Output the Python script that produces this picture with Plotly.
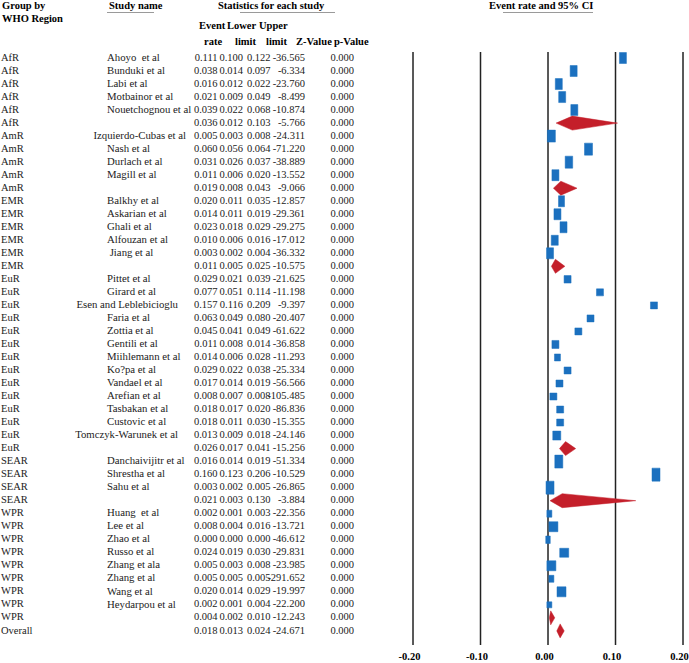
import plotly.graph_objects as go

# ---------------- data ----------------
groups = (["AfR"] * 6 + ["AmR"] * 5 + ["EMR"] * 6 + ["EuR"] * 14 +
          ["SEAR"] * 4 + ["WPR"] * 9 + ["Overall"])
study_names = [
    "Ahoyo  et al", "Bunduki et al", "Labi et al", "Motbainor et al", "Nouetchognou et al", "",
    "Izquierdo-Cubas et al", "Nash et al", "Durlach et al", "Magill et al", "",
    "Balkhy et al", "Askarian et al", "Ghali et al", "Alfouzan et al", " Jiang et al", "",
    "Pittet et al", "Girard et al", "Esen and Leblebicioglu", "Faria et al", "Zottia et al",
    "Gentili et al", "Miihlemann et al", "Ko?pa et al", "Vandael et al", "Arefian et al",
    "Tasbakan et al", "Custovic et al", "Tomczyk-Warunek et al", "",
    "Danchaivijitr et al", "Shrestha et al", "Sahu et al", "",
    "Huang  et al", "Lee et al", "Zhao et al", "Russo et al", "Zhang et ala", "Zhang et al",
    "Wang et al", "Heydarpou et al", "",
    "",
]
event_rate = [0.111, 0.038, 0.016, 0.021, 0.039, 0.036,
              0.005, 0.060, 0.031, 0.011, 0.019,
              0.020, 0.014, 0.023, 0.010, 0.003, 0.011,
              0.029, 0.077, 0.157, 0.063, 0.045, 0.011, 0.014, 0.029, 0.017, 0.008, 0.018, 0.018, 0.013, 0.026,
              0.016, 0.160, 0.003, 0.021,
              0.002, 0.008, 0.000, 0.024, 0.005, 0.005, 0.020, 0.002, 0.004,
              0.018]
lower_limit = [0.100, 0.014, 0.012, 0.009, 0.022, 0.012,
               0.003, 0.056, 0.026, 0.006, 0.008,
               0.011, 0.011, 0.018, 0.006, 0.002, 0.005,
               0.021, 0.051, 0.116, 0.049, 0.041, 0.008, 0.006, 0.022, 0.014, 0.007, 0.017, 0.011, 0.009, 0.017,
               0.014, 0.123, 0.002, 0.003,
               0.001, 0.004, 0.000, 0.019, 0.003, 0.005, 0.014, 0.001, 0.002,
               0.013]
upper_limit = [0.122, 0.097, 0.022, 0.049, 0.068, 0.103,
               0.008, 0.064, 0.037, 0.020, 0.043,
               0.035, 0.019, 0.029, 0.016, 0.004, 0.025,
               0.039, 0.114, 0.209, 0.080, 0.049, 0.014, 0.028, 0.038, 0.019, 0.008, 0.020, 0.030, 0.018, 0.041,
               0.019, 0.206, 0.005, 0.130,
               0.003, 0.016, 0.000, 0.030, 0.008, 0.005, 0.029, 0.004, 0.010,
               0.024]
z_value = [-36.565, -6.334, -23.760, -8.499, -10.874, -5.766,
           -24.311, -71.220, -38.889, -13.552, -9.066,
           -12.857, -29.361, -29.275, -17.012, -36.332, -10.575,
           -21.625, -11.198, -9.397, -20.407, -61.622, -36.858, -11.293, -25.334, -56.566, -105.485,
           -86.836, -15.355, -24.146, -15.256,
           -51.334, -10.529, -26.865, -3.884,
           -22.356, -13.721, -46.612, -29.831, -23.985, -291.652, -19.997, -22.200, -12.243,
           -24.671]
p_value = [0.000] * 45
tick_values = [-0.20, -0.10, 0.00, 0.10, 0.20]

# ---------------- style (box sizes in px, per row; None = summary diamond) -------------
box_w = [7, 7, 7, 7, 7, None,
         8, 8, 7.5, 7, None,
         6, 7, 7, 7, 7, None,
         7, 7, 7, 7, 7, 7, 6, 7, 7, 7, 7, 7, 8, None,
         8, 8, 8, None,
         5, 9, 4.5, 9, 9, 5, 9, 5, None,
         None]
box_h = [11, 11, 11, 11, 11, None,
         12, 12, 12, 11, None,
         11, 11, 11, 10, 11, None,
         7.5, 7, 7, 7, 7, 8, 7, 7, 7, 7, 7, 7, 9, None,
         13, 13, 13, None,
         7, 10, 7.5, 9, 10, 7, 10, 6, None,
         None]

W, H = 689, 663
ROW0, ROWH = 58.0, 13.02          # pixel y of first row, row pitch
PX_PER_UNIT = 675.0               # pixels per 1.0 of event rate
X0_PX = 548.0                     # pixel x of event rate 0
XMIN_R, XMAX_R = -0.215, 0.2088   # axis range (a little wider than the ticks)
DX = 1.0 / PX_PER_UNIT
DY = 1.0 / ROWH
dom_l = (X0_PX + XMIN_R * PX_PER_UNIT) / W
dom_r = (X0_PX + XMAX_R * PX_PER_UNIT) / W

BLUE = "#1b70bf"
RED = "#c41f2a"
TXT = "#222222"
FONT = "Liberation Serif"
FS = 10.5
FS_NAME = 10.75

n = len(groups)
rows = list(range(n))

fig = go.Figure()

# study boxes
bx, by = [], []
for i in rows:
    if box_w[i] is not None:
        hw = box_w[i] / 2 * DX
        hh = box_h[i] / 2 * DY
        r = event_rate[i]
        bx += [r - hw, r + hw, r + hw, r - hw, r - hw, None]
        by += [i - hh, i - hh, i + hh, i + hh, i - hh, None]
fig.add_trace(go.Scatter(x=bx, y=by, mode="lines", fill="toself", fillcolor=BLUE,
                         line=dict(color=BLUE, width=0.5), hoverinfo="skip",
                         showlegend=False, xaxis="x", yaxis="y"))

# summary diamonds
dxs, dys = [], []
for i in rows:
    if box_w[i] is None:
        hh = 7.0 * DY
        dxs += [lower_limit[i], event_rate[i], upper_limit[i], event_rate[i], lower_limit[i], None]
        dys += [i, i - hh, i, i + hh, i, None]
fig.add_trace(go.Scatter(x=dxs, y=dys, mode="lines", fill="toself", fillcolor=RED,
                         line=dict(color=RED, width=0.5), hoverinfo="skip",
                         showlegend=False, xaxis="x", yaxis="y"))

# ---------------- table text (x2 axis in pixel units) ----------------
def txt(xs, ys, texts, pos, bold=False, size=FS):
    fig.add_trace(go.Scatter(
        x=xs, y=ys, text=[f"<b>{t}</b>" if bold else t for t in texts],
        mode="text", textposition=pos, cliponaxis=False,
        textfont=dict(family=FONT, size=size, color=TXT if not bold else "#000"),
        hoverinfo="skip", showlegend=False, xaxis="x2", yaxis="y"))

txt([1] * n, rows, groups, "middle right")

# study names: most left-aligned, long ones right-aligned
left_idx = [i for i in rows if study_names[i] and len(study_names[i]) < 20]
right_idx = [i for i in rows if study_names[i] and len(study_names[i]) >= 20]
txt([107] * len(left_idx), left_idx, [study_names[i] for i in left_idx], "middle right",
    size=FS_NAME)
txt([186 if study_names[i].startswith("Izq") else 178 for i in right_idx], right_idx,
    [study_names[i] for i in right_idx], "middle left", size=FS_NAME)

txt([217.5] * n, rows, [f"{v:.3f}" for v in event_rate], "middle left")
txt([243] * n, rows, [f"{v:.3f}" for v in lower_limit], "middle left")
txt([270.5] * n, rows, [f"{v:.3f}" for v in upper_limit], "middle left")
txt([305] * n, rows, [f"{v:.3f}" for v in z_value], "middle left")
txt([354] * n, rows, [f"{v:.3f}" for v in p_value], "middle left")

# axis tick labels (bold, just under the vertical lines)
tick_row = (657 - ROW0) / ROWH
fig.add_trace(go.Scatter(
    x=[v - 3.5 * DX for v in tick_values], y=[tick_row] * len(tick_values),
    text=[f"<b>{v:.2f}</b>" for v in tick_values], mode="text", textposition="middle center",
    cliponaxis=False, textfont=dict(family=FONT, size=FS, color="#000"),
    hoverinfo="skip", showlegend=False, xaxis="x", yaxis="y"))

# vertical reference lines
top_row = (52 - ROW0) / ROWH
bot_row = (645 - ROW0) / ROWH
for v in tick_values:
    fig.add_shape(type="line", xref="x", yref="y", x0=v, x1=v, y0=top_row, y1=bot_row,
                  line=dict(color="#222", width=1.5), layer="below")

# ---------------- headers ----------------
def hdr(x, y, t, anchor):
    fig.add_annotation(x=x / W, y=1 - y / H, xref="paper", yref="paper", text=f"<b>{t}</b>",
                       showarrow=False, xanchor=anchor, yanchor="middle",
                       font=dict(family=FONT, size=FS, color="#000"))

hdr(0, 6, "Group by", "left")
hdr(0, 18.5, "WHO Region", "left")
hdr(107, 6, "Study name", "left")
hdr(216, 6, "Statistics for each study", "left")
hdr(212.5, 26, "Event", "center")
hdr(212.5, 41, "rate", "center")
hdr(258, 26, "Lower", "right")
hdr(258, 41, "limit", "right")
hdr(290, 26, "Upper", "right")
hdr(289, 41, "limit", "right")
hdr(334, 41, "Z-Value", "right")
hdr(371, 41, "p-Value", "right")
hdr(540.5, 6, "Event rate and 95% CI", "center")

for x0, x1 in [(107, 154), (240, 335), (503, 593)]:
    fig.add_shape(type="line", xref="paper", yref="paper", x0=x0 / W, x1=x1 / W,
                  y0=1 - 12.5 / H, y1=1 - 12.5 / H, line=dict(color="#9a9a9a", width=1))

# ---------------- layout ----------------
y_top = -ROW0 / ROWH
y_bot = (H - ROW0) / ROWH
fig.update_layout(
    width=W, height=H, margin=dict(l=0, r=0, t=0, b=0),
    paper_bgcolor="white", plot_bgcolor="rgba(0,0,0,0)", showlegend=False,
    xaxis=dict(domain=[dom_l, min(dom_r, 1.0)], range=[XMIN_R, XMAX_R], visible=False,
               showgrid=False, zeroline=False),
    xaxis2=dict(domain=[0, 1], range=[0, W], visible=False, showgrid=False, zeroline=False,
                anchor="y"),
    yaxis=dict(domain=[0, 1], range=[y_bot, y_top], visible=False, showgrid=False,
               zeroline=False),
)

fig.write_html("out.html", config={"displayModeBar": False},
               post_script="document.body.style.margin='0';document.body.style.overflow='hidden';")
